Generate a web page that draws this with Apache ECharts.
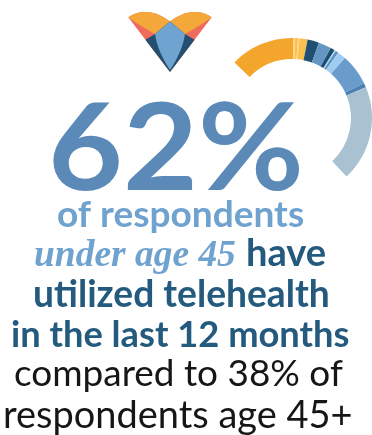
<!DOCTYPE html>
<html><head><meta charset="utf-8">
<script src="https://cdn.jsdelivr.net/npm/echarts@6/dist/echarts.min.js"></script>
<style>html,body{margin:0;padding:0;background:#fff;overflow:hidden}#c{width:372px;height:435px}</style>
</head><body><div id="c"></div>
<script>
// ---- data ----
const arcNames  = ['s1','s2','s3','s4','s5','s6','s7','s8','s9','s10','s11','s12','s13','age 45+'];
const arcValues = [25.7, 0.7, 1.1, 0.6, 3.2, 4.6, 5.1, 1.7, 0.6, 1.1, 3.4, 12.5, 1.7, 38];
const arcColors = ['#f4a52b','#fdd27c','#fbbf4c','#fdd27c','#fbc14e','#1f5073','#6497c4','#1e4d6e','#a5d4f5','#5c90c0','#9fcdf0','#6a9ccb','#4d82b5','#a8c2d1'];
const arcSpanDeg = 183;          // visible arc span
const headline = '62%';
const line1 = 'of respondents';
const line2a = 'under age 45';
const line2b = 'have';
const line3 = 'utilized telehealth';
const line4 = 'in the last 12 months';
const line5 = 'compared to 38% of';
const line6 = 'respondents age 45+';

// ---- build ----
const total = arcValues.reduce((a,b)=>a+b,0);
const filler = total * (360 - arcSpanDeg) / arcSpanDeg;
const pieData = arcValues.map((v,i)=>({name:arcNames[i], value:v, itemStyle:{color:arcColors[i]}}));
pieData.push({name:'', value:filler, itemStyle:{color:'rgba(0,0,0,0)'}});

const cv = document.createElement('canvas').getContext('2d');
function fitText(t, family, weight, fstyle, L, R, baseline, color, capH){
  const base = 100;
  cv.font = `${fstyle} ${weight} ${base}px ${family}`;
  let m = cv.measureText(t);
  const ink = m.actualBoundingBoxLeft + m.actualBoundingBoxRight;
  const s = base * (R - L) / ink;
  const font = `${fstyle} ${weight} ${s.toFixed(2)}px ${family}`;
  cv.font = font;
  m = cv.measureText(t);
  let k = 1;
  if (capH) { const a = cv.measureText(t.charAt(0)).actualBoundingBoxAscent; k = capH / a; }
  cv.textBaseline = 'middle';
  const mx = cv.measureText('x');
  const off = mx.actualBoundingBoxDescent;
  cv.textBaseline = 'alphabetic';
  return {type:'text', silent:true, z:10, x:0, y:baseline, scaleY:k,
    style:{text:t, x:L + m.actualBoundingBoxLeft, y:-off,
    font:font, fill:color, textAlign:'left', textVerticalAlign:'middle', verticalAlign:'middle'}};
}
const SANS = '"Lato"';
const SERIF = '"Liberation Serif"';
const cHead = '#5b8ab9', cLight = '#6fa2cf', cDark = '#245a7e', cBlack = '#161616';

const texts = [
  fitText(headline, SANS, 'bold', 'normal', 53, 300, 190, cHead, 88),
  fitText(line1, SANS, 'bold', 'normal', 58, 303, 227, cLight),
  fitText(line2a, SERIF, 'bold', 'italic', 35, 235, 266, cLight),
  fitText(line2b, SANS, 'bold', 'normal', 248, 325, 266, cDark),
  fitText(line3, SANS, 'bold', 'normal', 35, 328, 307, cDark),
  fitText(line4, SANS, 'bold', 'normal', 12, 348, 347, cDark),
  fitText(line5, SANS, 'normal', 'normal', 15, 342, 386, cBlack),
  fitText(line6, SANS, 'normal', 'normal', 5, 350, 428, cBlack)
];

// logo (decoration) - polygons built from quadratic outlines
function quad(p0, c, p2, n){
  const out = [];
  for (let i=0;i<=n;i++){ const t=i/n, u=1-t;
    out.push([u*u*p0[0]+2*u*t*c[0]+t*t*p2[0], u*u*p0[1]+2*u*t*c[1]+t*t*p2[1]]); }
  return out;
}
const mir = p => [340 - p[0], p[1]];
const A=[128.3,17.3], D=[170,21.5], V1=[155,34], C=[170,72], Cb=[170,70];
const V2=[A[0] + (C[0]-A[0])*(39.7-A[1])/(C[1]-A[1]), 39.7];
const topL = quad(A,[147.45,4.7],D,16);
const topR = quad(D,mir([147.45,4.7]),mir(A),16);
const orangeL = topL.concat(quad(V1,[143,27.5],A,12));
const orangeR = orangeL.map(mir);
const navy = [D, V1, V2, C, mir(V2), mir(V1)];
const blue = [D, mir(V1)].concat(quad(mir(V1),mir([157.5,51]),Cb,12), quad(Cb,[157.5,51],V1,12));
const poly = (pts, fill) => ({type:'polygon', silent:true, shape:{points:pts}, style:{fill:fill}});
const logo = [
  poly(topL.concat(topR, [C]), '#ef6b5b'),
  poly(orangeL, '#f4a83a'),
  poly(orangeR, '#f4a83a'),
  poly(navy, '#244f70'),
  poly(blue, '#6fa3d0')
];

const chart = echarts.init(document.getElementById('c'), null, {renderer:'canvas'});
chart.setOption({
  animation:false,
  backgroundColor:'#fff',
  series:[{
    type:'pie', silent:true, center:[292,118], radius:[59,80],
    startAngle:136, clockwise:true, avoidLabelOverlap:false,
    label:{show:false}, labelLine:{show:false},
    emphasis:{disabled:true},
    itemStyle:{borderWidth:0},
    data:pieData
  }],
  graphic:{elements: logo.concat(texts)}
});
</script>
</body></html>
